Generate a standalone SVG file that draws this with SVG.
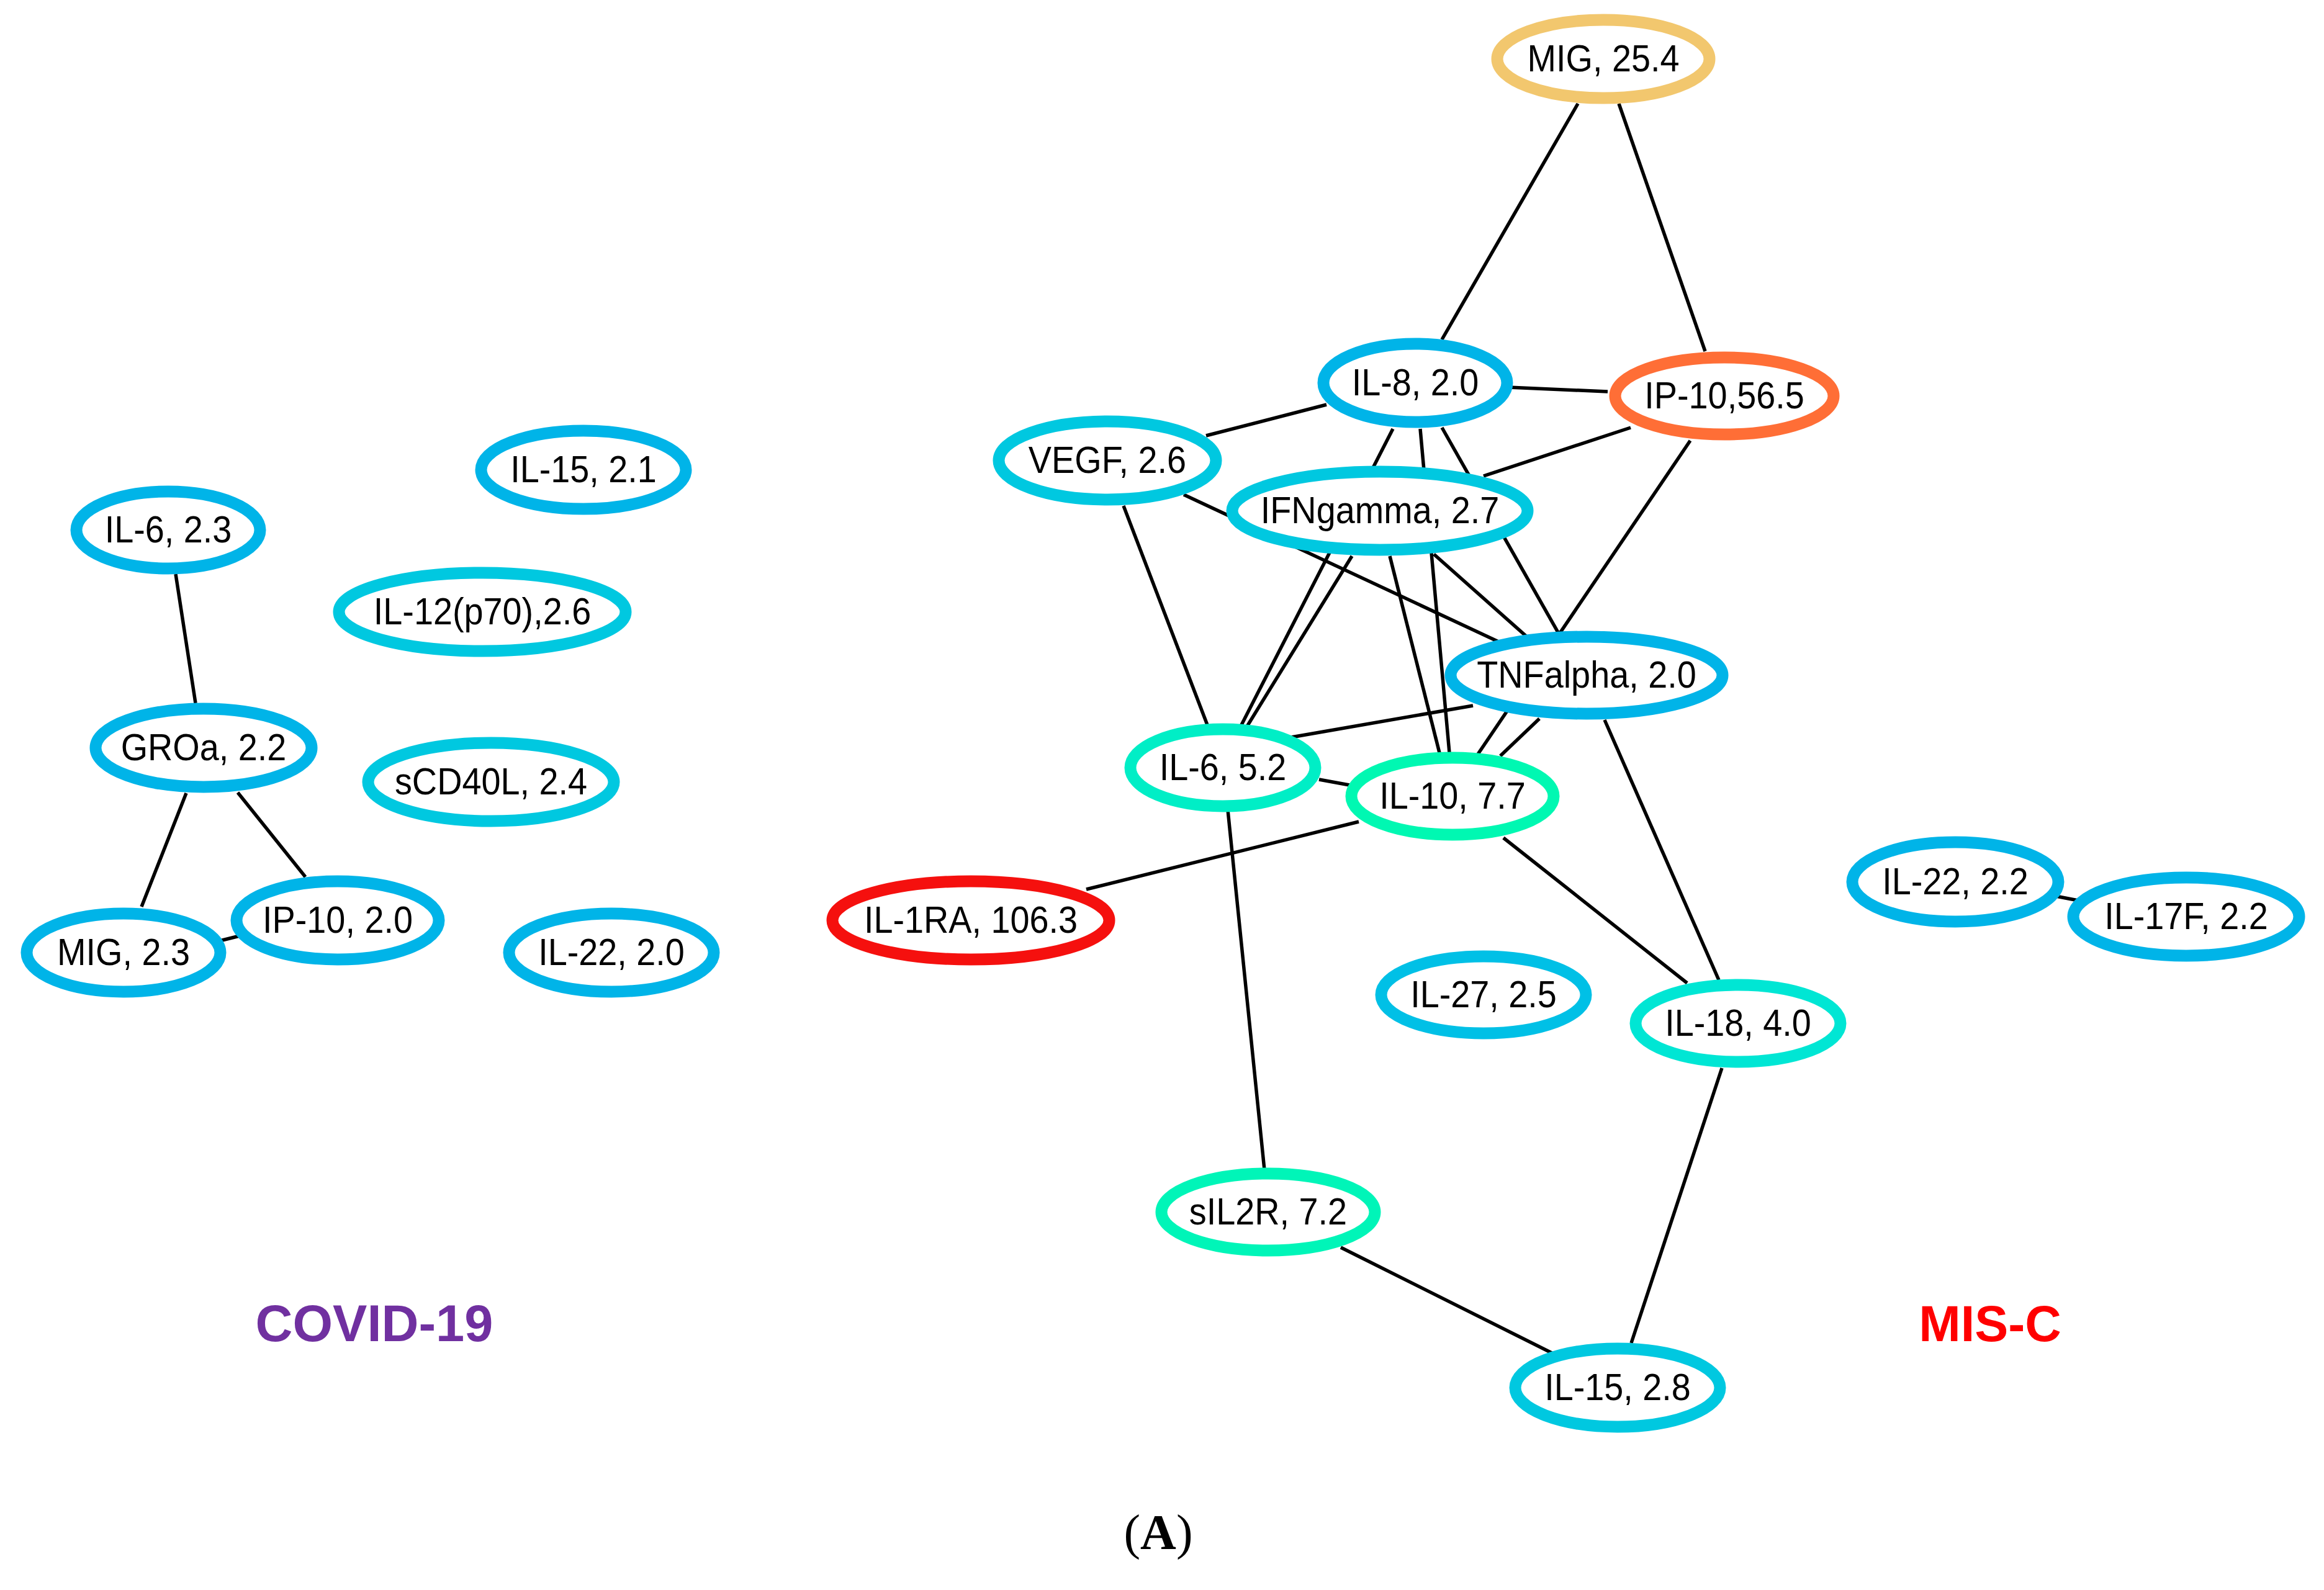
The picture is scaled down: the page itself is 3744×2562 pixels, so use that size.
<svg xmlns="http://www.w3.org/2000/svg" width="3744" height="2562" viewBox="0 0 3744 2562">
<style>
.n{fill:#fff;stroke-width:19}
.t{font-family:"Liberation Sans",Arial,sans-serif;font-size:62px;fill:#000;text-anchor:middle}
.b{stroke:#00B4E8}
.c{stroke:#00C8E0}
.e line{stroke:#000;stroke-width:5.5}
</style>
<rect width="3744" height="2562" fill="#fff"/>
<g id="connectors" class="e">
<line x1="283" y1="925" x2="315" y2="1133"/>
<line x1="300" y1="1278" x2="228" y2="1461"/>
<line x1="383" y1="1277" x2="492" y2="1413"/>
<line x1="350" y1="1517" x2="390" y2="1507"/>
<line x1="2542" y1="167" x2="2323" y2="547"/>
<line x1="2608" y1="167" x2="2747" y2="566"/>
<line x1="2430" y1="624" x2="2590" y2="631"/>
<line x1="2137" y1="652" x2="1943" y2="702"/>
<line x1="2627" y1="689" x2="2390" y2="767"/>
<line x1="2723" y1="710" x2="2381" y2="1215"/>
<line x1="2244" y1="691" x2="1999" y2="1170"/>
<line x1="2178" y1="896" x2="2008" y2="1172"/>
<line x1="2288" y1="691" x2="2335" y2="1213"/>
<line x1="2239" y1="896" x2="2319" y2="1213"/>
<line x1="2310" y1="893" x2="2471" y2="1036"/>
<line x1="2323" y1="689" x2="2518" y2="1033"/>
<line x1="1907" y1="797" x2="2427" y2="1040"/>
<line x1="1810" y1="815" x2="1945" y2="1168"/>
<line x1="2373" y1="1137" x2="1994" y2="1203"/>
<line x1="2480" y1="1158" x2="2417" y2="1218"/>
<line x1="2125" y1="1256" x2="2174" y2="1265"/>
<line x1="2189" y1="1324" x2="1750" y2="1433"/>
<line x1="1978" y1="1305" x2="2037" y2="1885"/>
<line x1="2422" y1="1350" x2="2718" y2="1584"/>
<line x1="2585" y1="1160" x2="2769" y2="1579"/>
<line x1="2774" y1="1721" x2="2628" y2="2164"/>
<line x1="2160" y1="2010" x2="2500" y2="2180"/>
<line x1="3312" y1="1444" x2="3348" y2="1451"/>
</g>
<g id="covid-il15"><ellipse class="n b" cx="940" cy="757" rx="165" ry="63"/><text class="t" transform="translate(940 777) scale(0.9 1)">IL-15, 2.1</text></g>
<g id="covid-il6"><ellipse class="n b" cx="271" cy="854" rx="148" ry="62"/><text class="t" transform="translate(271 874) scale(0.9 1)">IL-6, 2.3</text></g>
<g id="covid-il12"><ellipse class="n c" cx="777" cy="986" rx="231" ry="63"/><text class="t" transform="translate(777 1006) scale(0.9 1)">IL-12(p70),2.6</text></g>
<g id="covid-groa"><ellipse class="n b" cx="328" cy="1205" rx="174" ry="63"/><text class="t" transform="translate(328 1225) scale(0.9 1)">GROa, 2.2</text></g>
<g id="covid-scd40l"><ellipse class="n c" cx="791" cy="1260" rx="198" ry="63"/><text class="t" transform="translate(791 1280) scale(0.9 1)">sCD40L, 2.4</text></g>
<g id="covid-mig"><ellipse class="n b" cx="199" cy="1535" rx="156" ry="63"/><text class="t" transform="translate(199 1555) scale(0.9 1)">MIG, 2.3</text></g>
<g id="covid-ip10"><ellipse class="n b" cx="544" cy="1483" rx="163" ry="63"/><text class="t" transform="translate(544 1503) scale(0.9 1)">IP-10, 2.0</text></g>
<g id="covid-il22"><ellipse class="n b" cx="985" cy="1535" rx="165" ry="63"/><text class="t" transform="translate(985 1555) scale(0.9 1)">IL-22, 2.0</text></g>
<g id="misc-mig"><ellipse class="n" stroke="#F2C76E" cx="2583" cy="95" rx="171" ry="63"/><text class="t" transform="translate(2583 115) scale(0.9 1)">MIG, 25.4</text></g>
<g id="misc-il8"><ellipse class="n b" cx="2280" cy="617" rx="148" ry="63"/><text class="t" transform="translate(2280 637) scale(0.9 1)">IL-8, 2.0</text></g>
<g id="misc-ip10"><ellipse class="n" stroke="#FF6E36" cx="2778" cy="638" rx="176" ry="62"/><text class="t" transform="translate(2778 658) scale(0.9 1)">IP-10,56.5</text></g>
<g id="misc-vegf"><ellipse class="n c" cx="1784" cy="742" rx="175" ry="63"/><text class="t" transform="translate(1784 762) scale(0.9 1)">VEGF, 2.6</text></g>
<g id="misc-ifng"><ellipse class="n c" cx="2223" cy="823" rx="238" ry="63"/><text class="t" transform="translate(2223 843) scale(0.9 1)">IFNgamma, 2.7</text></g>
<g id="misc-tnfa"><ellipse class="n b" cx="2556" cy="1088" rx="219" ry="62"/><text class="t" transform="translate(2556 1108) scale(0.9 1)">TNFalpha, 2.0</text></g>
<g id="misc-il6"><ellipse class="n" stroke="#00EEC6" cx="1970" cy="1237" rx="149" ry="62"/><text class="t" transform="translate(1970 1257) scale(0.9 1)">IL-6, 5.2</text></g>
<g id="misc-il10"><ellipse class="n" stroke="#00F8B2" cx="2340" cy="1283" rx="163" ry="62"/><text class="t" transform="translate(2340 1303) scale(0.9 1)">IL-10, 7.7</text></g>
<g id="misc-il1ra"><ellipse class="n" stroke="#F5100E" cx="1564" cy="1483" rx="223" ry="63"/><text class="t" transform="translate(1564 1503) scale(0.9 1)">IL-1RA, 106.3</text></g>
<g id="misc-il27"><ellipse class="n" stroke="#00C0E6" cx="2390" cy="1603" rx="165" ry="62"/><text class="t" transform="translate(2390 1623) scale(0.9 1)">IL-27, 2.5</text></g>
<g id="misc-il18"><ellipse class="n" stroke="#00E6D4" cx="2800" cy="1649" rx="165" ry="62"/><text class="t" transform="translate(2800 1669) scale(0.9 1)">IL-18, 4.0</text></g>
<g id="misc-sil2r"><ellipse class="n" stroke="#00F5B8" cx="2043" cy="1953" rx="172" ry="62"/><text class="t" transform="translate(2043 1973) scale(0.9 1)">sIL2R, 7.2</text></g>
<g id="misc-il15"><ellipse class="n c" cx="2606" cy="2236" rx="165" ry="63"/><text class="t" transform="translate(2606 2256) scale(0.9 1)">IL-15, 2.8</text></g>
<g id="misc-il22"><ellipse class="n b" cx="3150" cy="1421" rx="166" ry="64"/><text class="t" transform="translate(3150 1441) scale(0.9 1)">IL-22, 2.2</text></g>
<g id="misc-il17f"><ellipse class="n b" cx="3522" cy="1477" rx="182" ry="63"/><text class="t" transform="translate(3522 1497) scale(0.9 1)">IL-17F, 2.2</text></g>
<text x="603" y="2161" font-family="Liberation Sans,Arial,sans-serif" font-size="83" font-weight="bold" fill="#7030A0" text-anchor="middle">COVID-19</text>
<text x="3206" y="2161" font-family="Liberation Sans,Arial,sans-serif" font-size="81" font-weight="bold" fill="#FF0000" text-anchor="middle">MIS-C</text>
<text x="1866" y="2496" font-family="Liberation Serif,Times New Roman,serif" font-size="80" fill="#000" text-anchor="middle">(<tspan font-weight="bold">A</tspan>)</text>
</svg>
